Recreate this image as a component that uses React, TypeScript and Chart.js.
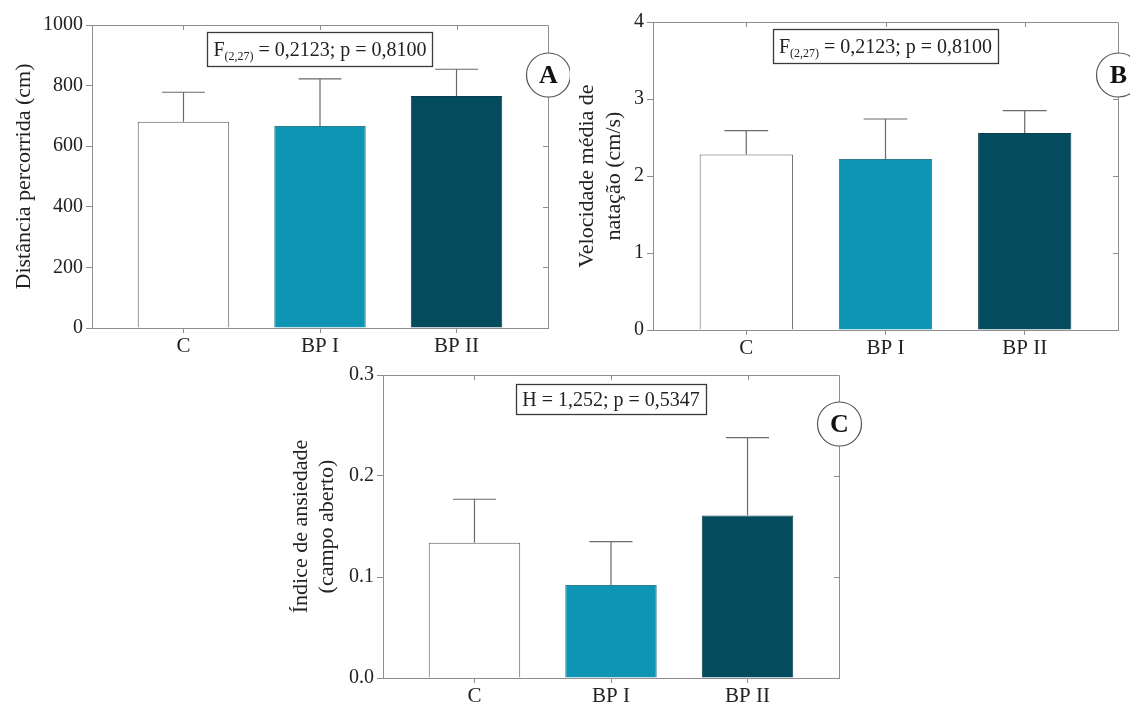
import { useEffect, useRef } from "react";
import { Chart, registerables } from "chart.js";

Chart.register(...registerables);

// ---------- data ----------
const categories = ["C", "BP I", "BP II"];
const barColors = ["#ffffff", "#0e95b3", "#054b5e"];
const barBorders = ["#5a5a5a", "#2f7d8f", "#0a3f4d"];

const distanceMeans = [681, 667, 766];
const distanceSD = [97, 155, 88];
const distanceTicks = [0, 200, 400, 600, 800, 1000];

const speedMeans = [2.28, 2.22, 2.56];
const speedSD = [0.31, 0.52, 0.29];
const speedTicks = [0, 1, 2, 3, 4];

const anxietyMeans = [0.134, 0.092, 0.161];
const anxietySD = [0.043, 0.043, 0.077];
const anxietyTicks = [0, 0.1, 0.2, 0.3];

const statA = ["F", "(2,27)", " = 0,2123; p = 0,8100"];
const statB = ["F", "(2,27)", " = 0,2123; p = 0,8100"];
const statC = ["H = 1,252; p = 0,5347", "", ""];

const FONT = '"Liberation Serif", "Times New Roman", serif';
const TEXT = "#222222";
const AXIS = "#8e8e8e";
const ERR = "#6a6a6a";

type PanelCfg = {
  left: number;
  top: number;
  width: number;
  height: number;
  pad: { top: number; right: number; bottom: number };
  yAxisWidth: number;
  xAxisHeight: number;
  means: number[];
  sds: number[];
  yTicks: number[];
  decimals: number;
  title: string | string[];
  titlePad: number;
  titleLH: number;
  stat: string[];
  statTop: number;
  statH: number;
  letter: string;
  letterDy: number;
};

const panelPlugin = {
  id: "panelDeco",
  afterDatasetsDraw(chart: any, _a: any, opts: any) {
    const ctx = chart.ctx;
    const y = chart.scales.y;
    const meta = chart.getDatasetMeta(0);
    ctx.save();
    ctx.strokeStyle = ERR;
    ctx.lineWidth = 1.2;
    meta.data.forEach((bar: any, i: number) => {
      const top = y.getPixelForValue(opts.means[i] + opts.sds[i]);
      const half = bar.width * 0.235;
      ctx.beginPath();
      ctx.moveTo(bar.x, bar.y);
      ctx.lineTo(bar.x, top);
      ctx.moveTo(bar.x - half, top);
      ctx.lineTo(bar.x + half, top);
      ctx.stroke();
    });
    ctx.restore();
  },
  afterDraw(chart: any, _a: any, opts: any) {
    const ctx = chart.ctx;
    const { left, right, top, bottom } = chart.chartArea;
    const x = chart.scales.x;
    const y = chart.scales.y;
    ctx.save();
    ctx.strokeStyle = AXIS;
    ctx.lineWidth = 1;
    ctx.beginPath();
    ctx.moveTo(left, top + 0.5);
    ctx.lineTo(right + 0.5, top + 0.5);
    ctx.lineTo(right + 0.5, bottom);
    // inward ticks on top
    x.ticks.forEach((t: any) => {
      const px = Math.round(x.getPixelForValue(t.value)) + 0.5;
      ctx.moveTo(px, top);
      ctx.lineTo(px, top + 5);
    });
    // inward ticks on right
    y.ticks.forEach((t: any, i: number) => {
      if (i === 0 || i === y.ticks.length - 1) return;
      const py = Math.round(y.getPixelForValue(t.value)) + 0.5;
      ctx.moveTo(right, py);
      ctx.lineTo(right - 5, py);
    });
    ctx.stroke();

    // stats box
    const [main, sub, rest] = opts.stat;
    ctx.font = `20px ${FONT}`;
    const wMain = ctx.measureText(main).width;
    ctx.font = `12px ${FONT}`;
    const wSub = sub ? ctx.measureText(sub).width : 0;
    ctx.font = `20px ${FONT}`;
    const wRest = rest ? ctx.measureText(rest).width : 0;
    const tw = wMain + wSub + wRest;
    const cx = (left + right) / 2;
    const bw = tw + 12;
    const bx = Math.round(cx - bw / 2) + 0.5;
    const by = Math.round(top + opts.statTop) + 0.5;
    ctx.strokeStyle = "#3a3a3a";
    ctx.lineWidth = 1.3;
    ctx.strokeRect(bx, by, Math.round(bw), opts.statH);
    const base = by + opts.statH / 2 + 6.5;
    let tx = cx - tw / 2;
    ctx.fillStyle = TEXT;
    ctx.textBaseline = "alphabetic";
    ctx.textAlign = "left";
    ctx.font = `20px ${FONT}`;
    ctx.fillText(main, tx, base);
    tx += wMain;
    if (sub) {
      ctx.font = `12px ${FONT}`;
      ctx.fillText(sub, tx, base + 4);
      tx += wSub;
    }
    if (rest) {
      ctx.font = `20px ${FONT}`;
      ctx.fillText(rest, tx, base);
    }

    // letter circle
    const ccx = right + 0.5;
    const ccy = top + opts.letterDy;
    ctx.beginPath();
    ctx.arc(ccx, ccy, 22, 0, Math.PI * 2);
    ctx.fillStyle = "#ffffff";
    ctx.fill();
    ctx.strokeStyle = "#555555";
    ctx.lineWidth = 1.2;
    ctx.stroke();
    ctx.fillStyle = "#111111";
    ctx.font = `bold 26px ${FONT}`;
    ctx.textAlign = "center";
    ctx.textBaseline = "middle";
    ctx.fillText(opts.letter, ccx, ccy + 1);
    ctx.restore();
  },
};

function Panel({ cfg }: { cfg: PanelCfg }) {
  const ref = useRef<HTMLCanvasElement | null>(null);
  useEffect(() => {
    if (!ref.current) return;
    const chart = new Chart(ref.current, {
      type: "bar",
      data: {
        datasets: [
          {
            data: cfg.means.map((m, i) => ({ x: i, y: m })),
            backgroundColor: barColors,
            borderColor: barBorders,
            borderWidth: 1,
            barPercentage: 0.67,
            categoryPercentage: 1,
          } as any,
        ],
      },
      options: {
        animation: false,
        responsive: false,
        maintainAspectRatio: false,
        layout: { padding: { left: 0, top: cfg.pad.top, right: cfg.pad.right, bottom: cfg.pad.bottom } },
        plugins: {
          legend: { display: false },
          tooltip: { enabled: false },
          panelDeco: {
            means: cfg.means,
            sds: cfg.sds,
            stat: cfg.stat,
            statTop: cfg.statTop,
            statH: cfg.statH,
            letter: cfg.letter,
            letterDy: cfg.letterDy,
          },
        } as any,
        scales: {
          x: {
            type: "linear",
            offset: false,
            min: -0.67,
            max: categories.length - 1 + 0.67,
            afterBuildTicks: (s: any) => {
              s.ticks = categories.map((_, i) => ({ value: i }));
            },
            afterFit: (s: any) => {
              s.height = cfg.xAxisHeight;
            },
            ticks: {
              callback: (v: any) => categories[v] ?? "",
              font: { family: FONT, size: 21 },
              color: TEXT,
              padding: 1,
              maxRotation: 0,
              autoSkip: false,
            },
            grid: { offset: false, drawOnChartArea: false, drawTicks: true, tickLength: 5, color: AXIS },
            border: { color: AXIS, width: 1 },
          },
          y: {
            type: "linear",
            min: cfg.yTicks[0],
            max: cfg.yTicks[cfg.yTicks.length - 1],
            afterBuildTicks: (s: any) => {
              s.ticks = cfg.yTicks.map((v) => ({ value: v }));
            },
            afterFit: (s: any) => {
              s.width = cfg.yAxisWidth;
            },
            ticks: {
              callback: (v: any) => Number(v).toFixed(cfg.decimals),
              font: { family: FONT, size: 20 },
              color: TEXT,
              padding: 3,
            },
            grid: { drawOnChartArea: false, drawTicks: true, tickLength: 6, color: AXIS },
            border: { color: AXIS, width: 1 },
            title: {
              display: true,
              text: cfg.title,
              color: TEXT,
              font: { family: FONT, size: 22, lineHeight: cfg.titleLH },
              padding: { top: cfg.titlePad, bottom: 0 },
            },
          },
        },
      } as any,
      plugins: [panelPlugin],
    });
    return () => chart.destroy();
  }, [cfg]);
  return (
    <canvas
      ref={ref}
      width={cfg.width}
      height={cfg.height}
      style={{ position: "absolute", left: cfg.left, top: cfg.top, width: cfg.width, height: cfg.height }}
    />
  );
}

const panelA: PanelCfg = {
  left: 0,
  top: 0,
  width: 570,
  height: 365,
  pad: { top: 25, right: 22, bottom: 7 },
  yAxisWidth: 92,
  xAxisHeight: 30,
  means: distanceMeans,
  sds: distanceSD,
  yTicks: distanceTicks,
  decimals: 0,
  title: "Distância percorrida (cm)",
  titlePad: 11,
  titleLH: 1.2,
  stat: statA,
  statTop: 7,
  statH: 34,
  letter: "A",
  letterDy: 50,
};

const panelB: PanelCfg = {
  left: 565,
  top: 0,
  width: 565,
  height: 365,
  pad: { top: 22, right: 12, bottom: 5 },
  yAxisWidth: 88,
  xAxisHeight: 30,
  means: speedMeans,
  sds: speedSD,
  yTicks: speedTicks,
  decimals: 0,
  title: ["Velocidade média de", "natação (cm/s)"],
  titlePad: 8,
  titleLH: 1.25,
  stat: statB,
  statTop: 7,
  statH: 34,
  letter: "B",
  letterDy: 53,
};

const panelC: PanelCfg = {
  left: 280,
  top: 360,
  width: 600,
  height: 342,
  pad: { top: 14, right: 41, bottom: 0 },
  yAxisWidth: 103,
  xAxisHeight: 24,
  means: anxietyMeans,
  sds: anxietySD,
  yTicks: anxietyTicks,
  decimals: 1,
  title: ["Índice de ansiedade", "(campo aberto)"],
  titlePad: 9,
  titleLH: 1.15,
  stat: statC,
  statTop: 9,
  statH: 30,
  letter: "C",
  letterDy: 49,
};

export default function App() {
  return (
    <div style={{ position: "absolute", left: 0, top: 0, width: 1130, height: 702, background: "#ffffff", overflow: "hidden" }}>
      <Panel cfg={panelA} />
      <Panel cfg={panelB} />
      <Panel cfg={panelC} />
    </div>
  );
}
